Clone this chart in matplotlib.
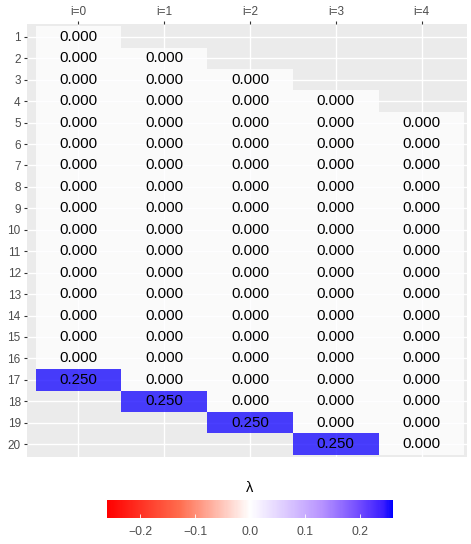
import matplotlib
matplotlib.use("Agg")
import matplotlib.pyplot as plt
import numpy as np
from matplotlib.colors import LinearSegmentedColormap

plt.rcParams['font.family'] = ['Liberation Sans', 'DejaVu Sans']

row_labels = [str(r) for r in range(1, 21)]
col_labels = ["i=0", "i=1", "i=2", "i=3", "i=4"]
n = None
lam = [
    [0.0, n, n, n, n],
    [0.0, 0.0, n, n, n],
    [0.0, 0.0, 0.0, n, n],
    [0.0, 0.0, 0.0, 0.0, n],
    [0.0, 0.0, 0.0, 0.0, 0.0],
    [0.0, 0.0, 0.0, 0.0, 0.0],
    [0.0, 0.0, 0.0, 0.0, 0.0],
    [0.0, 0.0, 0.0, 0.0, 0.0],
    [0.0, 0.0, 0.0, 0.0, 0.0],
    [0.0, 0.0, 0.0, 0.0, 0.0],
    [0.0, 0.0, 0.0, 0.0, 0.0],
    [0.0, 0.0, 0.0, 0.0, 0.0],
    [0.0, 0.0, 0.0, 0.0, 0.0],
    [0.0, 0.0, 0.0, 0.0, 0.0],
    [0.0, 0.0, 0.0, 0.0, 0.0],
    [0.0, 0.0, 0.0, 0.0, 0.0],
    [0.25, 0.0, 0.0, 0.0, 0.0],
    [n, 0.25, 0.0, 0.0, 0.0],
    [n, n, 0.25, 0.0, 0.0],
    [n, n, n, 0.25, 0.0],
]
cbar_ticks = [-0.2, -0.1, 0.0, 0.1, 0.2]

vals = np.array([[np.nan if v is None else v for v in r] for r in lam])
masked = np.ma.masked_invalid(vals)

# red - white - blue, roughly like a Lab-space gradient
cmap = LinearSegmentedColormap.from_list("rwb", [
    (0.0, (1.0, 0.0, 0.0)),
    (0.25, (1.0, 0.42, 0.30)),
    (0.5, (1.0, 1.0, 1.0)),
    (0.62, (0.87, 0.80, 1.0)),
    (0.75, (0.72, 0.58, 1.0)),
    (0.88, (0.45, 0.30, 1.0)),
    (0.97, (0.22, 0.11, 1.0)),
    (1.0, (0.0, 0.0, 1.0)),
])
vlim = 0.26

fig = plt.figure(figsize=(4.71, 5.44), dpi=100)
ax = fig.add_axes([0.0573, 0.1599, 0.9342, 0.796])
ax.set_facecolor('#ebebeb')
for s in ax.spines.values():
    s.set_visible(False)

nr, nc = vals.shape
xe = np.arange(nc + 1) - 0.5
ye = np.arange(nr + 1) - 0.5
ax.pcolormesh(xe, ye, masked, cmap=cmap, vmin=-vlim, vmax=vlim, alpha=0.8,
              zorder=2)

for r in range(nr):
    for c in range(nc):
        if not np.isnan(vals[r, c]):
            ax.text(c, r, f"{vals[r, c]:.3f}", ha='center', va='center',
                    fontsize=10.8, color='black', zorder=3)

ax.set_xlim(-0.6, 4.53)
ax.set_ylim(nr - 1 + 0.6, -0.6)
ax.set_xticks(range(nc))
ax.set_xticklabels(col_labels)
ax.set_yticks(range(nr))
ax.set_yticklabels(row_labels)
ax.xaxis.tick_top()
ax.tick_params(axis='both', length=2.5, width=0.8, color='#333333',
               labelcolor='#4d4d4d', labelsize=8.5, pad=2)
ax.grid(True, color='white', linewidth=1.0, zorder=1)
ax.set_axisbelow(True)

cax = fig.add_axes([0.2272, 0.0478, 0.6072, 0.0331])
sm = plt.cm.ScalarMappable(cmap=cmap, norm=plt.Normalize(-vlim, vlim))
cb = fig.colorbar(sm, cax=cax, orientation='horizontal', ticks=cbar_ticks)
cb.outline.set_visible(False)
cb.ax.set_xticklabels([f"{t:.1f}".replace("-", "\u2212") for t in cbar_ticks])
cax.tick_params(axis='x', direction='in', length=3, color='white', width=0.6,
                labelsize=8.8, labelcolor='#4d4d4d', pad=6)
cax.set_title("\u03bb", fontsize=10.5, pad=6)

fig.savefig("out.png", dpi=100)
